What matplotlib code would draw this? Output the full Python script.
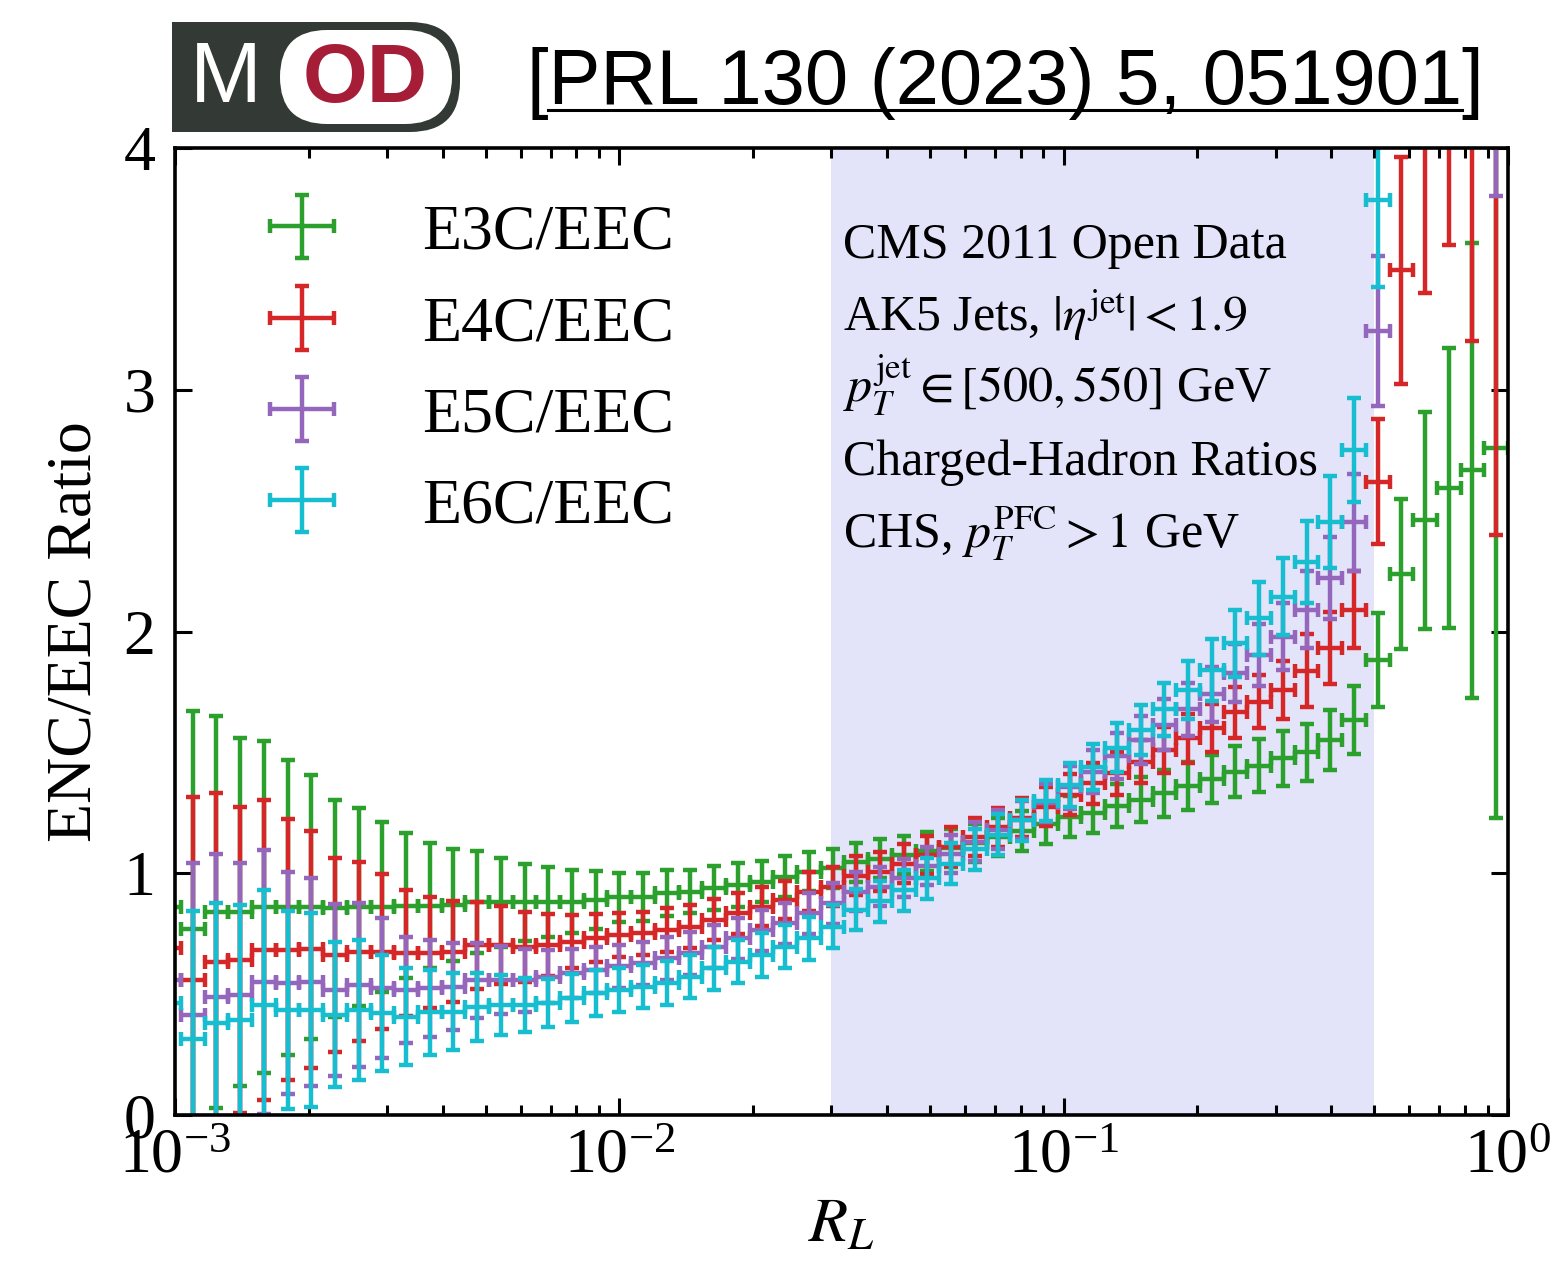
import numpy as np
import matplotlib.pyplot as plt
from matplotlib.patches import FancyBboxPatch, Rectangle
from matplotlib.lines import Line2D

# R_L binning: 57 log-spaced bins ending at R_L = 1
rl_edges = np.logspace(-3.04, 0.0, 58)
rl = np.sqrt(rl_edges[:-1] * rl_edges[1:])
rl_lo = rl - rl_edges[:-1]
rl_hi = rl_edges[1:] - rl

nan = np.nan

e3c = [0.86, 0.77, 0.84, 0.84, 0.86, 0.86, 0.86, 0.855, 0.86, 0.86,
       0.866, 0.866, 0.869, 0.88, 0.88, 0.88, 0.88, 0.882, 0.889, 0.90,
       0.903, 0.917, 0.924, 0.938, 0.951, 0.965, 0.986, 1.006, 1.02, 1.045,
       1.06, 1.075, 1.09, 1.105, 1.125, 1.15, 1.175, 1.205, 1.234, 1.25,
       1.28, 1.305, 1.331, 1.36, 1.39, 1.42, 1.445, 1.475, 1.50, 1.552,
       1.634, 1.882, 2.238, 2.46, 2.593, 2.666, 2.759]
e3c_err = [1.0, 0.90, 0.81, 0.72, 0.685, 0.61, 0.547, 0.45, 0.41, 0.35,
           0.30, 0.26, 0.23, 0.21, 0.185, 0.16, 0.145, 0.13, 0.12, 0.10,
           0.10, 0.095, 0.09, 0.09, 0.09, 0.085, 0.085, 0.08, 0.08, 0.08,
           0.08, 0.08, 0.08, 0.08, 0.08, 0.08, 0.082, 0.083, 0.085, 0.085,
           0.09, 0.092, 0.097, 0.10, 0.10, 0.105, 0.11, 0.115, 0.117, 0.124,
           0.141, 0.193, 0.31, 0.45, 0.58, 0.94, 1.53]

e4c = [0.69, 0.56, 0.634, 0.641, 0.683, 0.683, 0.686, 0.662, 0.676, 0.676,
       0.669, 0.672, 0.676, 0.703, 0.703, 0.696, 0.703, 0.717, 0.731, 0.745,
       0.751, 0.765, 0.779, 0.807, 0.834, 0.862, 0.889, 0.924, 0.945, 0.99,
       1.007, 1.04, 1.075, 1.11, 1.15, 1.19, 1.23, 1.275, 1.324, 1.372,
       1.413, 1.462, 1.51, 1.558, 1.60, 1.665, 1.71, 1.758, 1.838, 1.931,
       2.091, 2.62, 3.494, 4.4, 4.5, 5.0, 6.0]
e4c_err = [0.75, 0.756, 0.70, 0.634, 0.62, 0.54, 0.49, 0.40, 0.37, 0.32,
           0.26, 0.23, 0.21, 0.18, 0.16, 0.145, 0.13, 0.11, 0.10, 0.09,
           0.09, 0.09, 0.09, 0.085, 0.085, 0.08, 0.08, 0.08, 0.08, 0.08,
           0.08, 0.08, 0.08, 0.08, 0.08, 0.08, 0.08, 0.08, 0.085, 0.085,
           0.09, 0.09, 0.095, 0.10, 0.10, 0.105, 0.11, 0.12, 0.15, 0.15,
           0.16, 0.26, 0.47, 1.0, 0.9, 1.8, 3.6]

e5c = [0.558, 0.414, 0.49, 0.496, 0.551, 0.545, 0.551, 0.517, 0.538, 0.524,
       0.517, 0.524, 0.531, 0.558, 0.558, 0.558, 0.572, 0.586, 0.60, 0.615,
       0.627, 0.648, 0.669, 0.696, 0.731, 0.765, 0.793, 0.834, 0.876, 0.924,
       0.944, 0.98, 1.03, 1.08, 1.13, 1.18, 1.22, 1.29, 1.355, 1.42,
       1.485, 1.551, 1.615, 1.678, 1.74, 1.827, 1.903, 1.979, 2.09, 2.22,
       2.452, 3.243, nan, nan, nan, nan, 5.5]
e5c_err = [0.65, 0.63, 0.59, 0.548, 0.545, 0.46, 0.43, 0.356, 0.34, 0.29,
           0.22, 0.20, 0.18, 0.155, 0.14, 0.13, 0.11, 0.10, 0.095, 0.09,
           0.09, 0.09, 0.09, 0.09, 0.085, 0.085, 0.085, 0.085, 0.085, 0.08,
           0.08, 0.08, 0.08, 0.08, 0.08, 0.08, 0.08, 0.08, 0.09, 0.09,
           0.095, 0.10, 0.105, 0.11, 0.115, 0.12, 0.13, 0.14, 0.16, 0.17,
           0.20, 0.31, nan, nan, nan, nan, 1.7]

e6c = [0.462, 0.313, 0.379, 0.393, 0.455, 0.434, 0.434, 0.414, 0.434, 0.42,
       0.407, 0.425, 0.428, 0.448, 0.455, 0.455, 0.462, 0.483, 0.503, 0.517,
       0.531, 0.545, 0.572, 0.607, 0.634, 0.662, 0.696, 0.731, 0.779, 0.85,
       0.885, 0.93, 0.98, 1.04, 1.10, 1.16, 1.22, 1.30, 1.365, 1.441,
       1.52, 1.593, 1.678, 1.76, 1.841, 1.951, 2.054, 2.144, 2.289, 2.454,
       2.75, 3.784, nan, nan, nan, nan, nan]
e6c_err = [0.6, 0.53, 0.50, 0.476, 0.476, 0.41, 0.40, 0.30, 0.29, 0.24,
           0.20, 0.175, 0.16, 0.14, 0.125, 0.11, 0.10, 0.10, 0.095, 0.09,
           0.09, 0.09, 0.09, 0.09, 0.09, 0.09, 0.09, 0.09, 0.09, 0.085,
           0.085, 0.085, 0.085, 0.085, 0.085, 0.085, 0.085, 0.085, 0.09, 0.095,
           0.10, 0.105, 0.11, 0.12, 0.13, 0.14, 0.15, 0.16, 0.17, 0.19,
           0.215, 0.36, nan, nan, nan, nan, nan]

series = [
    ("E3C/EEC", e3c, e3c_err, "#2ca02c"),
    ("E4C/EEC", e4c, e4c_err, "#d62728"),
    ("E5C/EEC", e5c, e5c_err, "#9467bd"),
    ("E6C/EEC", e6c, e6c_err, "#17becf"),
]

info_lines = [
    "CMS 2011 Open Data",
    r"AK5 Jets, $|\eta^{\rm jet}| < 1.9$",
    r"$p_T^{\rm jet} \in [500, 550]$ GeV",
    "Charged-Hadron Ratios",
    r"CHS, $p_T^{\rm PFC} > 1$ GeV",
]

plt.rcParams["font.family"] = ["Liberation Serif", "DejaVu Serif"]
plt.rcParams["mathtext.fontset"] = "stix"

W, H = 1557, 1279
fig = plt.figure(figsize=(W / 100, H / 100), dpi=100)


def fx(x):
    return x / W


def fy(y):
    return 1 - y / H


ax = fig.add_axes([fx(175), fy(1115), fx(1508) - fx(175), fy(148) - fy(1115)])

ax.axvspan(0.03, 0.5, color="#e3e3fa", lw=0, zorder=0)

for label, vals, errs, color in series:
    ax.errorbar(rl, vals, yerr=errs, xerr=[rl_lo, rl_hi], fmt="none",
                ecolor=color, elinewidth=3.2, capsize=5, capthick=3.2,
                label=label, zorder=2)

ax.set_xscale("log")
ax.set_xlim(1e-3, 1)
ax.set_ylim(0, 4)
ax.set_yticks([0, 1, 2, 3, 4])
ax.minorticks_on()
ax.yaxis.set_minor_locator(plt.NullLocator())
ax.tick_params(which="both", direction="in", top=True, right=True,
               width=2.2, labelsize=46)
ax.tick_params(which="major", length=12)
ax.tick_params(which="minor", length=7)
ax.tick_params(axis="y", pad=14)
ax.tick_params(axis="x", pad=10)
for sp in ax.spines.values():
    sp.set_linewidth(2.6)

ax.set_xlabel(r"$R_L$", fontsize=46, labelpad=8)
ax.set_ylabel("ENC/EEC Ratio", fontsize=46, labelpad=14)

leg = ax.legend(loc="upper left", bbox_to_anchor=(0.068, 0.942), frameon=False,
                fontsize=46, handlelength=1.15, handletextpad=1.3,
                labelspacing=0.51, borderaxespad=0, borderpad=0)

for i, line in enumerate(info_lines):
    y = 258 + i * 72.5
    ax.text(0.501, (1115 - y) / 967, line, transform=ax.transAxes,
            fontsize=36, va="baseline", ha="left")

# MOD logo
lax = fig.add_axes([fx(168), fy(136), fx(466) - fx(168), fy(18) - fy(136)])
lax.set_xlim(168, 466)
lax.set_ylim(136, 18)
lax.axis("off")
lax.add_patch(FancyBboxPatch((172, 22), 288, 110,
                             boxstyle="round,pad=0,rounding_size=50",
                             fc="#333a35", ec="none"))
lax.add_patch(Rectangle((172, 22), 80, 110, fc="#333a35", ec="none"))
lax.add_patch(FancyBboxPatch((280, 30), 172, 94,
                             boxstyle="round,pad=0,rounding_size=47",
                             fc="white", ec="none"))
lax.text(226, 80, "M", color="white", fontsize=62,
         family="Liberation Sans", ha="center", va="center")
lax.text(365, 80, "OD", color="#a51d37", fontsize=60, fontweight="bold",
         family="Liberation Sans", ha="center", va="center")

fig.text(fx(1005), fy(104), "[PRL 130 (2023) 5, 051901]", fontsize=56,
         family="Liberation Sans", ha="center", va="baseline")
fig.add_artist(Line2D([fx(548), fx(1462)], [fy(110), fy(110)],
                      color="black", lw=2.2))

fig.savefig("out.png", dpi=100)
